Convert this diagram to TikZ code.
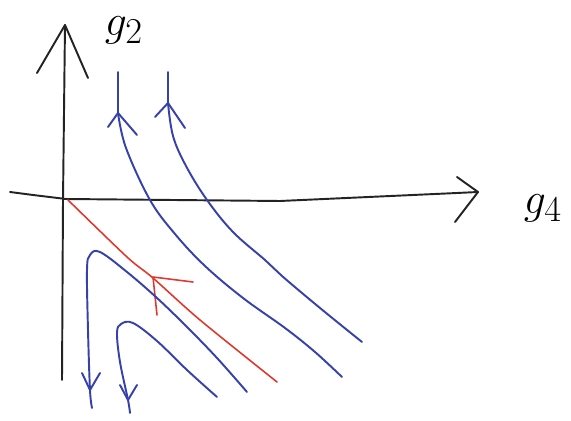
\documentclass[tikz,border=0pt]{standalone}
\usepackage{tikz}
\definecolor{penblue}{RGB}{55,65,170}
\definecolor{penred}{RGB}{225,55,45}
\definecolor{penblack}{RGB}{35,35,35}

\begin{document}
\begin{tikzpicture}[x=0.02cm,y=-0.02cm,line cap=round,line join=round,
  pen/.style={line width=1.1pt,penblack},
  flow/.style={line width=1.1pt,penblue},
  sep/.style={line width=0.9pt,penred},
  lbl/.style={font=\fontsize{30}{32}\selectfont}]
  \useasboundingbox (0,0) rectangle (571,421);
  % axes
  \draw[pen] (65,25) -- (63,200) -- (62,380);
  \draw[pen] (37,73) -- (65,25) -- (88,78);
  \draw[pen] (10,192) -- (33,195) -- (66,199) -- (280,201) -- (457,193) -- (478,192);
  \draw[pen] (457,177) -- (478,192) -- (455,222);
  \node[lbl] (g2) at (124,30) {$g_2$};
  \node[lbl] (g4) at (543,208) {$g_4$};
  % upper trajectories
  \draw[flow] (118,72) -- (118,113) plot[smooth,tension=0.6] coordinates {(118,113) (126,148) (150,200) (175,234) (205,266) (243,298) (285,328) (315,352) (342,377)};
  \draw[flow] (108,127) -- (118,113) -- (137,135);
  \draw[flow] (168,72) -- (168,103) plot[smooth,tension=0.6] coordinates {(168,103) (173,136) (186,166) (207,200) (233,232) (265,260) (282,276) (320,308) (362,342)};
  \draw[flow] (155,117) -- (168,103) -- (185,128);
  % separatrix
  \draw[sep] plot[smooth,tension=0.5] coordinates {(68,200) (127,257) (153,278) (200,320) (277,382)};
  \draw[sep] (157,315) -- (153,277) -- (193,282);
  % lower trajectories
  \draw[flow] plot[smooth,tension=0.6] coordinates {(92,408) (90,390) (88,330) (87,270) (90,255) (100,252) (127,272) (157,298) (187,327) (217,358) (247,392)};
  \draw[flow] (82,373) -- (90,390) -- (100,373);
  \draw[flow] plot[smooth,tension=0.6] coordinates {(130,413) (128,400) (120,362) (117,333) (121,324) (133,323) (157,341) (187,370) (217,397)};
  \draw[flow] (120,385) -- (128,400) -- (137,385);
\end{tikzpicture}
\end{document}
